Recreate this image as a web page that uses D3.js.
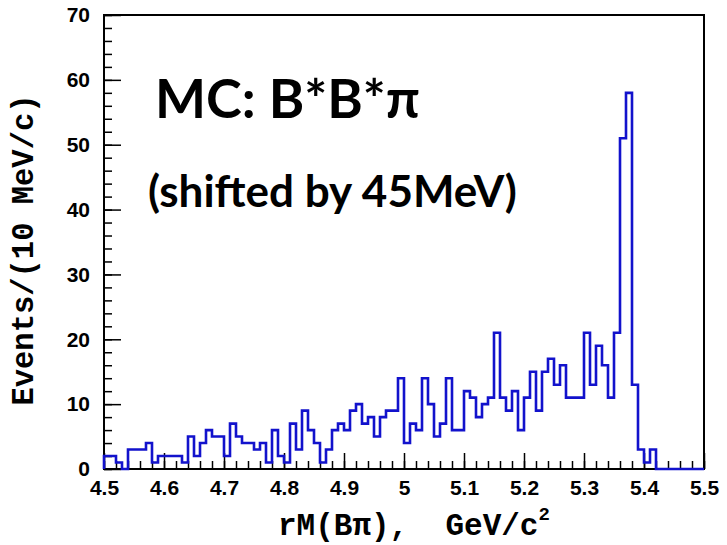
<!DOCTYPE html>
<html>
<head>
<meta charset="utf-8">
<script src="https://cdn.jsdelivr.net/npm/d3@7"></script>
<style>
  body { margin: 0; background: #fff; }
  .tick text { font-family: "Liberation Sans", Arial, sans-serif; font-weight: bold; font-size: 21px; fill: #000; }
</style>
</head>
<body>
<svg id="chart" width="727" height="545"></svg>
<script>
// histogram: 100 bins of 10 MeV from 4.50 to 5.50
var binLow = 4.5;
var binWidth = 0.01;
var counts = [
  2, 2, 1, 0, 3, 3, 3, 4, 1, 2,
  2, 2, 2, 1, 5, 2, 4, 6, 5, 5,
  2, 7, 5, 4, 4, 3, 4, 1, 6, 2,
  1, 7, 3, 9, 6, 4, 1, 3, 6, 7,
  6, 9, 10, 7, 8, 5, 8, 9, 9, 14,
  4, 7, 6, 14, 10, 5, 7, 14, 6, 6,
  12, 11, 8, 10, 11, 21, 11, 9, 12, 6,
  11, 15, 9, 15, 17, 13, 16, 11, 11, 11,
  21, 13, 19, 16, 11, 21, 51, 58, 13, 3,
  1, 3, 0, 0, 0, 0, 0, 0, 0, 0
];
var xTicks = [4.5, 4.6, 4.7, 4.8, 4.9, 5.0, 5.1, 5.2, 5.3, 5.4, 5.5];
var yTicks = [0, 10, 20, 30, 40, 50, 60, 70];

var titleText = "MC: B*B*\u03c0";
var noteText = "(shifted by 45MeV)";

//* chart setup *//
var svg = d3.select("#chart"),
    margin = {top: 15, right: 23, bottom: 76, left: 104},
    width = 727 - margin.left - margin.right,
    height = 545 - margin.top - margin.bottom;

svg.append("rect").attr("width", 727).attr("height", 545).attr("fill", "#fff");

var g = svg.append("g")
    .attr("transform", "translate(" + margin.left + "," + margin.top + ")");

var x = d3.scaleLinear().domain([4.5, 5.5]).range([0, width]);
var y = d3.scaleLinear().domain([0, 70]).range([height, 0]);

// minor ticks every 0.02 and 2 events
var xMinor = d3.range(0, 51).map(function(i){ return 4.5 + i * 0.02; });
var yMinor = d3.range(0, 36).map(function(i){ return i * 2; });

g.append("g")
    .attr("transform", "translate(0," + height + ")")
    .call(d3.axisBottom(x).tickValues(xMinor).tickSize(-8).tickFormat(""))
    .call(function(a){ a.select(".domain").remove(); a.selectAll("line").attr("stroke-width", 1.5); });

g.append("g")
    .call(d3.axisLeft(y).tickValues(yMinor).tickSize(-8).tickFormat(""))
    .call(function(a){ a.select(".domain").remove(); a.selectAll("line").attr("stroke-width", 1.5); });

// major ticks + labels
g.append("g")
    .attr("transform", "translate(0," + height + ")")
    .call(d3.axisBottom(x).tickValues(xTicks).tickSize(-16).tickPadding(11)
        .tickFormat(function(d){ return String(+d.toFixed(2)); }))
    .call(function(a){ a.select(".domain").remove(); a.selectAll("line").attr("stroke-width", 1.5); });

g.append("g")
    .call(d3.axisLeft(y).tickValues(yTicks).tickSize(-17).tickPadding(14))
    .call(function(a){ a.select(".domain").remove(); a.selectAll("line").attr("stroke-width", 1.5); });

// frame
g.append("rect")
    .attr("width", width)
    .attr("height", height)
    .attr("fill", "none")
    .attr("stroke", "#000")
    .attr("stroke-width", 2);

// histogram outline
var pts = [[binLow, 0]];
counts.forEach(function(c, i){ pts.push([binLow + i * binWidth, c]); });
pts.push([binLow + counts.length * binWidth, counts[counts.length - 1]]);
pts.push([binLow + counts.length * binWidth, 0]);

var line = d3.line()
    .x(function(d){ return x(d[0]); })
    .y(function(d){ return y(d[1]); })
    .curve(d3.curveStepAfter);

g.append("path")
    .datum(pts)
    .attr("d", line)
    .attr("fill", "none")
    .attr("stroke", "#1212cc")
    .attr("stroke-width", 2.6);

// axis titles
svg.append("text")
    .attr("transform", "translate(33,250) rotate(-90)")
    .attr("text-anchor", "middle")
    .attr("font-family", "'Liberation Mono', 'Courier New', monospace")
    .attr("font-weight", "bold")
    .attr("font-size", 30.5)
    .text("Events/(10 MeV/c)");

var xt = svg.append("text")
    .attr("x", 278)
    .attr("y", 535)
    .style("white-space", "pre")
    .attr("font-family", "'Liberation Mono', 'Courier New', monospace")
    .attr("font-weight", "bold")
    .attr("font-size", 31);
xt.append("tspan").text("rM(B\u03c0),  GeV/c");
xt.append("tspan").attr("dy", -15).attr("font-size", 19).text("2");

// annotations
svg.append("text")
    .attr("x", 155)
    .attr("y", 118)
    .attr("font-family", "Lato, 'Open Sans', sans-serif")
    .attr("font-weight", "bold")
    .attr("font-size", 54)
    .text(titleText);

svg.append("text")
    .attr("x", 148)
    .attr("y", 207)
    .attr("font-family", "Lato, 'Open Sans', sans-serif")
    .attr("font-weight", "bold")
    .attr("font-size", 44)
    .text(noteText);
</script>
</body>
</html>
